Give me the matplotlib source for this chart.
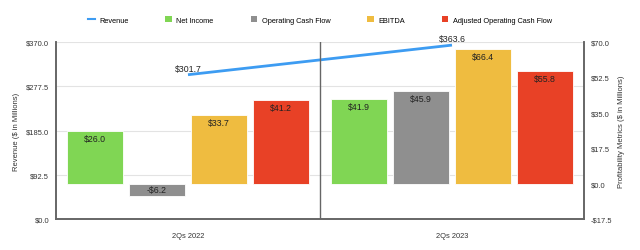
import numpy as np
import matplotlib.pyplot as plt
from matplotlib.lines import Line2D
from matplotlib.patches import Patch

plt.rcParams['font.family'] = ['Liberation Sans', 'DejaVu Sans']

# data
periods = ["2Qs 2022", "2Qs 2023"]
revenue = [301.7, 363.6]
net_income = [26.0, 41.9]
op_cash_flow = [-6.2, 45.9]
ebitda = [33.7, 66.4]
adj_op_cash_flow = [41.2, 55.8]

series_names = ["Net Income", "Operating Cash Flow", "EBITDA", "Adjusted Operating Cash Flow"]
series_vals = [net_income, op_cash_flow, ebitda, adj_op_cash_flow]
colors = ["#80d654", "#8f8f8f", "#efbc40", "#e84126"]
line_color = "#3d9cf2"

fig = plt.figure(figsize=(6.4, 2.51), dpi=100)
ax = fig.add_axes([0.0875, 0.1235, 0.825, 0.705])
ax2 = ax.twinx()

x = np.arange(len(periods))

# revenue line on left axis
ax.plot(x, revenue, color=line_color, lw=2, solid_capstyle="butt", zorder=3)
for xi, v in zip(x, revenue):
    ax.annotate(f"${v:.1f}", (xi, v), xytext=(0, 1.5), textcoords="offset points",
                ha="center", va="bottom", fontsize=6.3, color="#222222")

ax.set_xlim(-0.5, 1.5)
ax.set_ylim(0, 370)
lt = [0, 92.5, 185, 277.5, 370]
ax.set_yticks(lt)
ax.set_yticklabels([f"${t:.1f}" for t in lt])
ax.set_xticks(x)
ax.set_xticklabels(periods)
ax.set_ylabel("Revenue ($ in Millions)", fontsize=5.5, color="#333333", labelpad=4)
ax.grid(axis="y", color="#e3e3e3", lw=0.8)
ax.set_axisbelow(True)

# bars on right axis
width = 0.212
step = 0.235
for i, (name, vals, c) in enumerate(zip(series_names, series_vals, colors)):
    pos = x + (i - 1.5) * step
    ax2.bar(pos, vals, width, color=c, edgecolor="white", linewidth=0.6, zorder=2)
    for p, v in zip(pos, vals):
        lab = f"${v:.1f}" if v >= 0 else f"-${abs(v):.1f}"
        if v >= 0:
            ax2.annotate(lab, (p, v), xytext=(0, -2), textcoords="offset points",
                         ha="center", va="top", fontsize=6.3, color="#222222")
        else:
            ax2.annotate(lab, (p, v / 2), ha="center", va="center",
                         fontsize=6.3, color="#222222")

ax2.set_ylim(-17.5, 70)
rt = [-17.5, 0, 17.5, 35, 52.5, 70]
ax2.set_yticks(rt)
ax2.set_yticklabels([f"${t:.1f}" if t >= 0 else f"-${abs(t):.1f}" for t in rt])
ax2.set_ylabel("Profitability Metrics ($ in Millions)", fontsize=5.5, color="#333333", labelpad=4)

# separator between periods
ax2.axvline(0.5, color="#666666", lw=1, zorder=1)

for a in (ax, ax2):
    a.tick_params(length=0, labelsize=5.4, colors="#333333", pad=5)
    a.spines["top"].set_visible(False)
    for s in ("left", "right", "bottom"):
        a.spines[s].set_color("#666666")
        a.spines[s].set_linewidth(1.2)
ax.tick_params(axis="x", pad=9)

handles = [Line2D([0], [0], color=line_color, lw=1.5)] + \
          [Patch(facecolor=c) for c in colors]
labels = ["Revenue"] + series_names
fig.legend(handles, labels, loc="center", bbox_to_anchor=(0.5, 0.917), ncol=5,
           frameon=False, fontsize=5.3, handlelength=0.9, handleheight=0.9,
           columnspacing=5.0, handletextpad=0.6)

fig.savefig("out.png", dpi=100)
